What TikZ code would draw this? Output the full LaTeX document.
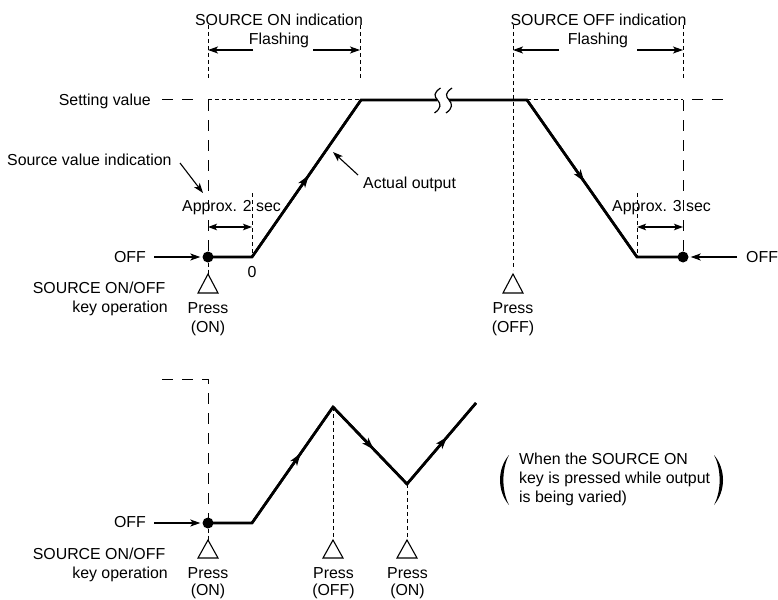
\documentclass[tikz,border=0pt]{standalone}
\usepackage{fontspec}
\setmainfont{Liberation Sans}
\usetikzlibrary{arrows.meta,decorations.markings}
\begin{document}
\begin{tikzpicture}[x=1pt,y=-1pt,
  lbl/.style={inner sep=0pt, font=\fontsize{15.9}{19}\selectfont},
  sdash/.style={line width=1pt, dash pattern=on 4pt off 3pt},
  ldash/.style={line width=1pt, dash pattern=on 11pt off 9pt},
  outline/.style={line width=2.6pt, line join=miter},
  ann/.style={line width=1.1pt, -{Stealth[length=10pt,width=7pt,inset=2.5pt]}},
  dimarrow/.style={line width=1.1pt, {Stealth[length=9pt,width=6.5pt,inset=2pt]}-{Stealth[length=9pt,width=6.5pt,inset=2pt]}},
  keytri/.style={line width=1.1pt, line join=miter},
  dotnode/.style={circle, fill, inner sep=0pt, minimum size=11pt},
  midarrow/.style={postaction={decorate},decoration={markings,mark=at position #1 with {\arrow{Stealth[length=12pt,width=8pt,inset=3pt]}}}}
]
\useasboundingbox (0,0) rectangle (778,599);

% ---------------- upper diagram ----------------
\node[dotnode] (dotA) at (208,257) {};
\node[dotnode] (dotB) at (683,257) {};
\coordinate (kneeA) at (252,257);
\coordinate (topA) at (361,100);
\coordinate (brkL) at (437,100);
\coordinate (brkR) at (449,100);
\coordinate (topB) at (527,100);
\coordinate (kneeB) at (637,257);

% vertical guide lines
\coordinate (vA1) at (208,25);  \coordinate (vA2) at (208,80);  \coordinate (vA3) at (208,100);
\coordinate (vB1) at (360,25);  \coordinate (vB2) at (360,80);
\coordinate (vC1) at (513,25);  \coordinate (vC2) at (513,270);
\coordinate (vD1) at (683,25);  \coordinate (vD2) at (683,80);  \coordinate (vD3) at (683,100);
\coordinate (vE1) at (252,193);
\coordinate (vF1) at (637,193);
\draw[sdash] (vA1) -- (vA2);
\draw[sdash] (vB1) -- (vB2);
\draw[sdash] (vC1) -- (vC2);
\draw[sdash] (vD1) -- (vD2);
\draw[ldash] (vA3) -- (dotA.center);
\draw[ldash] (vD3) -- (dotB.center);
\draw[sdash] (vE1) -- (kneeA);
\draw[sdash] (vF1) -- (kneeB);

% setting value line
\coordinate (sv1) at (162,100); \coordinate (sv2) at (196,100);
\coordinate (sv5) at (692,100); \coordinate (sv6) at (730,100);
\draw[ldash] (sv1) -- (sv2);
\draw[sdash] (vA3) -- (topA);
\draw[sdash] (topB) -- (vD3);
\draw[ldash] (sv5) -- (sv6);

% output line
\draw[outline] (dotA.center) -- (kneeA) -- (topA) -- (brkL);
\draw[outline] (brkR) -- (topB) -- (kneeB) -- (dotB.center);
\draw[outline, midarrow=0.52] (kneeA) -- (topA);
\draw[outline, midarrow=0.52] (topB) -- (kneeB);
% break mark
\draw[line width=1.2pt] (440.5,88) .. controls (433.5,93) and (434,96) .. (437.5,100) .. controls (441,104) and (441.5,108) .. (434.5,113);
\draw[line width=1.2pt] (452,88) .. controls (445,93) and (445.5,96) .. (449,100) .. controls (452.5,104) and (453,108) .. (446,113);

% flashing arrows
\coordinate (fA1) at (253,50); \coordinate (fA0) at (208,50);
\coordinate (fB1) at (313,50); \coordinate (fB0) at (360,50);
\coordinate (fC1) at (559,50); \coordinate (fC0) at (513,50);
\coordinate (fD1) at (637,50); \coordinate (fD0) at (683,50);
\draw[ann] (fA1) -- (fA0);
\draw[ann] (fB1) -- (fB0);
\draw[ann] (fC1) -- (fC0);
\draw[ann] (fD1) -- (fD0);

% approx arrows
\coordinate (dA1) at (208,227); \coordinate (dA2) at (252,227);
\coordinate (dB1) at (637,227); \coordinate (dB2) at (683,227);
\draw[dimarrow] (dA1) -- (dA2);
\draw[dimarrow] (dB1) -- (dB2);

% annotation arrows
\coordinate (svA) at (180,163); \coordinate (svB) at (203,193);
\coordinate (aoA) at (358,175); \coordinate (aoB) at (333,152);
\draw[ann] (svA) -- (svB);
\draw[ann] (aoA) -- (aoB);

% OFF arrows
\coordinate (offA) at (154,257);
\coordinate (offB) at (737,257);
\draw[ann] (offA) -- ([xshift=-2pt]dotA.west);
\draw[ann] (offB) -- ([xshift=2pt]dotB.east);

% key triangles
\coordinate (tA) at (208,274);
\coordinate (tB) at (513,274);
\draw[sdash] (dotA.south) -- (tA);
\draw[keytri] (tA) -- ++(-10,19) -- ++(20,0) -- cycle;
\draw[keytri] (tB) -- ++(-10,19) -- ++(20,0) -- cycle;

% labels
\node[lbl, anchor=base] (tSON) at (279,25.5) {SOURCE ON indication};
\node[lbl, anchor=base] (flA) at (279,44.5) {Flashing};
\node[lbl, anchor=base] (tSOFF) at (598.5,25.5) {SOURCE OFF indication};
\node[lbl, anchor=base] (flB) at (598,44.5) {Flashing};
\node[lbl, anchor=base east] (setv) at (151,105.5) {Setting value};
\node[lbl, anchor=base west] (srcv) at (7,165) {Source value indication};
\node[lbl, anchor=base west] (act) at (363,188) {Actual output};
\node[lbl, anchor=base west] (ap2) at (182,211.5) {Approx. 2 sec};
\node[lbl, anchor=base west] (ap3) at (612,211.5) {Approx. 3 sec};
\node[lbl, anchor=base east] (offL) at (146,262.5) {OFF};
\node[lbl, anchor=base] (zero) at (252,277.5) {0};
\node[lbl, anchor=base west] (offR) at (746,262.5) {OFF};
\node[lbl, anchor=base east] (keyA1) at (165.5,293.3) {SOURCE ON/OFF};
\node[lbl, anchor=base east] (keyA2) at (168,312.7) {key operation};
\node[lbl, anchor=base] (prA) at (208,313.5) {Press};
\node[lbl, anchor=base] (onA) at (208,332) {(ON)};
\node[lbl, anchor=base] (prB) at (513,313.5) {Press};
\node[lbl, anchor=base] (offBt) at (513,332) {(OFF)};

% ---------------- lower diagram ----------------
\node[dotnode] (dotC) at (208,523) {};
\coordinate (kneeC) at (252,523);
\coordinate (peakC) at (333,407);
\coordinate (valC) at (407,484);
\coordinate (endC) at (476,403);
\coordinate (lc1) at (162,379);
\coordinate (lc2) at (208,379);
\draw[ldash] (lc1) -- (lc2) -- (dotC.center);
\coordinate (tC) at (208,540);
\coordinate (tD) at (333,540);
\coordinate (tE) at (407,540);
\draw[sdash] (peakC) -- (tD);
\draw[sdash] (valC) -- (tE);
\draw[sdash] (dotC.south) -- (tC);
\draw[outline] (dotC.center) -- (kneeC) -- (peakC) -- (valC) -- (endC);
\draw[outline, midarrow=0.6] (kneeC) -- (peakC);
\draw[outline, midarrow=0.55] (peakC) -- (valC);
\draw[outline, midarrow=0.58] (valC) -- (endC);
\draw[keytri] (tC) -- ++(-10,18) -- ++(20,0) -- cycle;
\draw[keytri] (tD) -- ++(-10,18) -- ++(20,0) -- cycle;
\draw[keytri] (tE) -- ++(-10,18) -- ++(20,0) -- cycle;
\coordinate (offC) at (154,523);
\draw[ann] (offC) -- ([xshift=-2pt]dotC.west);

\node[lbl, anchor=base east] (offL2) at (146,527.5) {OFF};
\node[lbl, anchor=base east] (keyC1) at (165.5,559.5) {SOURCE ON/OFF};
\node[lbl, anchor=base east] (keyC2) at (168,578.5) {key operation};
\node[lbl, anchor=base] (prC) at (208,578.5) {Press};
\node[lbl, anchor=base] (onC) at (208,595) {(ON)};
\node[lbl, anchor=base] (prD) at (333.5,578.5) {Press};
\node[lbl, anchor=base] (offD) at (333.5,595) {(OFF)};
\node[lbl, anchor=base] (prE) at (407.5,578.5) {Press};
\node[lbl, anchor=base] (onE) at (407.5,595) {(ON)};

% note with large parentheses
\node[lbl, anchor=base west] (note1) at (519,464.5) {When the SOURCE ON};
\node[lbl, anchor=base west] (note2) at (519,483.5) {key is pressed while output};
\node[lbl, anchor=base west] (note3) at (519,502.5) {is being varied)};
\fill (509,455) .. controls (497,469) and (497,491) .. (509,505) .. controls (501.5,491) and (501.5,469) .. (509,455) -- cycle;
\fill (714,455) .. controls (726,469) and (726,491) .. (714,505) .. controls (721.5,491) and (721.5,469) .. (714,455) -- cycle;
\end{tikzpicture}
\end{document}
